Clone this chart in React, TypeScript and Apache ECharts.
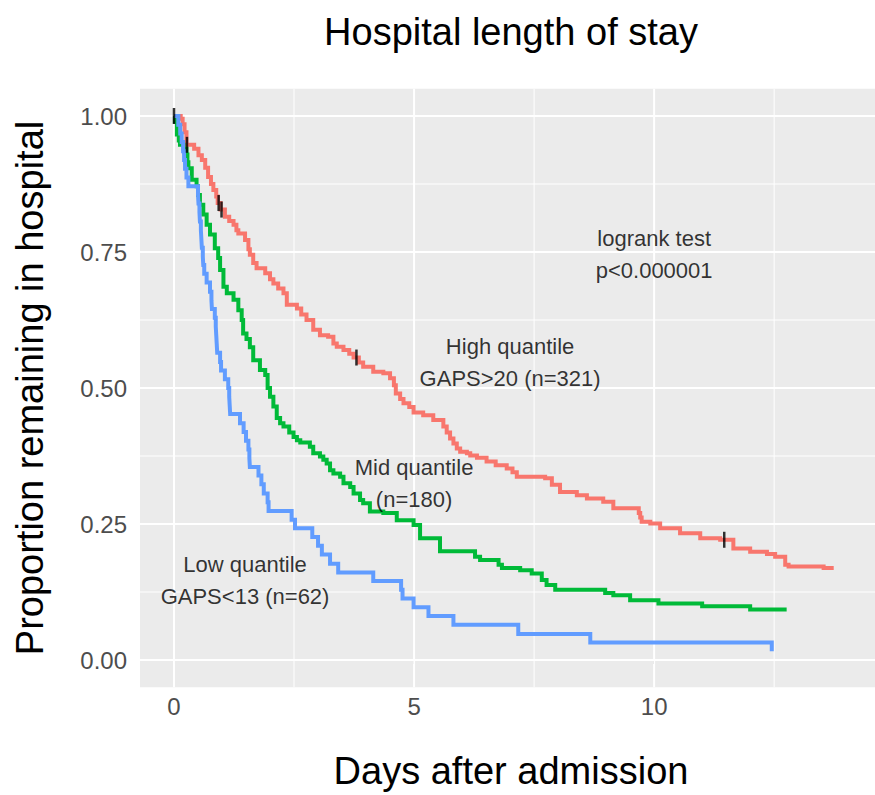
import React, { useEffect, useRef } from "react";
import * as echarts from "echarts";

// Kaplan–Meier estimates of the proportion still in hospital, by GAPS group
const highTimes = [0, 0.14, 0.18, 0.22, 0.26, 0.42, 0.51, 0.58, 0.65, 0.71, 0.77, 0.82, 0.88, 0.91, 0.97, 1.06, 1.15, 1.24, 1.30, 1.34, 1.48, 1.55, 1.58, 1.65, 1.72, 1.90, 2.00, 2.07, 2.17, 2.28, 2.35, 2.56, 2.65, 2.76, 2.90, 3.04, 3.21, 3.32, 3.39, 3.53, 3.65, 3.74, 3.85, 3.94, 4.15, 4.36, 4.50, 4.58, 4.62, 4.71, 4.78, 4.90, 4.99, 5.19, 5.40, 5.61, 5.68, 5.75, 5.82, 5.89, 5.96, 6.10, 6.17, 6.31, 6.51, 6.70, 6.93, 7.05, 7.14, 7.73, 7.87, 8.04, 8.39, 8.60, 8.94, 9.15, 9.68, 9.71, 9.74, 9.92, 10.125, 10.54, 10.96, 11.375, 11.65, 12.0, 12.35, 12.52, 12.73, 12.80, 13.53, 13.74];
const highSurv = [1.0, 0.995, 0.985, 0.97, 0.947, 0.94, 0.928, 0.919, 0.905, 0.888, 0.875, 0.864, 0.852, 0.84, 0.828, 0.815, 0.807, 0.80, 0.79, 0.784, 0.772, 0.755, 0.745, 0.73, 0.72, 0.711, 0.70, 0.692, 0.683, 0.674, 0.653, 0.646, 0.635, 0.625, 0.607, 0.597, 0.594, 0.582, 0.576, 0.57, 0.563, 0.556, 0.547, 0.539, 0.53, 0.527, 0.518, 0.505, 0.49, 0.48, 0.472, 0.465, 0.455, 0.45, 0.441, 0.429, 0.418, 0.407, 0.398, 0.389, 0.383, 0.38, 0.376, 0.372, 0.365, 0.358, 0.352, 0.345, 0.337, 0.334, 0.322, 0.309, 0.303, 0.297, 0.291, 0.279, 0.27, 0.262, 0.254, 0.251, 0.242, 0.233, 0.224, 0.221, 0.205, 0.199, 0.195, 0.19, 0.175, 0.172, 0.169, 0.169];

const midTimes = [0, 0.02, 0.06, 0.10, 0.125, 0.20, 0.26, 0.28, 0.30, 0.37, 0.47, 0.50, 0.54, 0.61, 0.68, 0.75, 0.85, 0.92, 0.96, 1.03, 1.10, 1.24, 1.34, 1.41, 1.44, 1.51, 1.58, 1.65, 1.79, 1.90, 1.95, 2.00, 2.07, 2.14, 2.21, 2.28, 2.40, 2.49, 2.56, 2.63, 2.83, 2.90, 3.04, 3.11, 3.18, 3.25, 3.32, 3.46, 3.53, 3.67, 3.74, 3.875, 3.94, 4.08, 4.36, 4.64, 4.99, 5.125, 5.54, 6.27, 6.375, 6.76, 6.83, 7.21, 7.45, 7.66, 7.76, 7.94, 8.98, 9.15, 9.5, 10.09, 11.0, 12.0, 12.76];
const midSurv = [1.0, 0.99, 0.966, 0.955, 0.947, 0.94, 0.929, 0.915, 0.904, 0.883, 0.871, 0.855, 0.837, 0.819, 0.80, 0.782, 0.757, 0.739, 0.717, 0.686, 0.674, 0.662, 0.643, 0.625, 0.60, 0.59, 0.575, 0.551, 0.533, 0.524, 0.50, 0.484, 0.466, 0.445, 0.435, 0.429, 0.418, 0.41, 0.404, 0.40, 0.392, 0.38, 0.374, 0.368, 0.361, 0.349, 0.343, 0.337, 0.325, 0.318, 0.306, 0.294, 0.288, 0.273, 0.27, 0.257, 0.248, 0.224, 0.200, 0.19, 0.184, 0.175, 0.169, 0.165, 0.159, 0.147, 0.138, 0.129, 0.123, 0.119, 0.11, 0.104, 0.099, 0.093, 0.093];

const lowTimes = [0, 0.09, 0.13, 0.16, 0.19, 0.21, 0.23, 0.26, 0.30, 0.50, 0.51, 0.53, 0.54, 0.56, 0.57, 0.58, 0.60, 0.61, 0.63, 0.68, 0.75, 0.78, 0.79, 0.85, 0.87, 0.88, 0.89, 0.90, 0.96, 0.98, 1.06, 1.13, 1.15, 1.16, 1.17, 1.375, 1.45, 1.50, 1.55, 1.57, 1.58, 1.76, 1.82, 1.87, 1.95, 1.97, 2.45, 2.52, 2.88, 3.0, 3.08, 3.25, 3.42, 4.15, 4.73, 4.76, 4.99, 5.30, 5.82, 7.17, 8.67, 12.45];
const lowSurv = [1.0, 0.984, 0.968, 0.952, 0.935, 0.919, 0.903, 0.887, 0.871, 0.855, 0.839, 0.823, 0.806, 0.790, 0.774, 0.758, 0.742, 0.726, 0.710, 0.694, 0.677, 0.661, 0.645, 0.629, 0.613, 0.597, 0.581, 0.565, 0.548, 0.532, 0.516, 0.500, 0.484, 0.468, 0.452, 0.435, 0.419, 0.403, 0.387, 0.371, 0.355, 0.339, 0.323, 0.306, 0.290, 0.274, 0.258, 0.242, 0.226, 0.210, 0.194, 0.177, 0.161, 0.145, 0.129, 0.113, 0.097, 0.081, 0.065, 0.048, 0.032, 0.016];

// censored observations (marked with "|") on the high-GAPS curve
const highCensorTimes = [0, 0.27, 0.93, 0.99, 3.80, 11.46];

// axis ticks and grid
const xTicks = [0, 5, 10];
const xMinorGrid = [2.5, 7.5, 12.5];
const yTicks = [0, 0.25, 0.5, 0.75, 1.0];
const yMinorGrid = [0.125, 0.375, 0.625, 0.875];

// in-panel annotations: [x, y, text]
const annotations: [number, number, string][] = [
  [10.0, 0.746, "logrank test\np<0.000001"],
  [7.0, 0.546, "High quantile\nGAPS>20 (n=321)"],
  [5.0, 0.325, "Mid quantile\n(n=180)"],
  [1.48, 0.147, "Low quantile\nGAPS<13 (n=62)"],
];

const TITLE = "Hospital length of stay";
const X_TITLE = "Days after admission";
const Y_TITLE = "Proportion remaining in hospital";

const X_MIN = -0.708;
const X_MAX = 14.6;
const Y_MIN = -0.05;
const Y_MAX = 1.05;

const FONT = "'Liberation Sans', Arial, sans-serif";

const zip = (t: number[], s: number[]) => t.map((v, i) => [v, s[i]]);
const survAt = (t: number[], s: number[], at: number) => {
  let v = s[0];
  for (let i = 0; i < t.length; i++) if (t[i] <= at) v = s[i];
  return v;
};

export default function App() {
  const ref = useRef<HTMLDivElement>(null);

  useEffect(() => {
    if (!ref.current) return;
    const chart = echarts.init(ref.current, undefined, { renderer: "svg" });

    const gridSeries: any[] = [];
    const addLine = (data: number[][], width: number) =>
      gridSeries.push({
        type: "line",
        data,
        symbol: "none",
        silent: true,
        z: 1,
        lineStyle: { color: "#FFFFFF", width },
      });
    xMinorGrid.forEach((x) => addLine([[x, Y_MIN], [x, Y_MAX]], 1));
    yMinorGrid.forEach((y) => addLine([[X_MIN, y], [X_MAX, y]], 1));
    xTicks.forEach((x) => addLine([[x, Y_MIN], [x, Y_MAX]], 2));
    yTicks.forEach((y) => addLine([[X_MIN, y], [X_MAX, y]], 2));

    const curve = (name: string, t: number[], s: number[], color: string, z: number) => ({
      type: "line",
      name,
      step: "end",
      data: zip(t, s),
      showSymbol: false,
      symbol: "none",
      z,
      lineStyle: { color, width: 4, join: "miter" },
    });

    chart.setOption({
      animation: false,
      backgroundColor: "#FFFFFF",
      grid: {
        left: 140,
        right: 0,
        top: 88.8,
        bottom: 107.8,
        show: true,
        backgroundColor: "#EBEBEB",
        borderWidth: 0,
      },
      xAxis: {
        type: "value",
        min: X_MIN,
        max: X_MAX,
        axisLine: { show: false },
        splitLine: { show: false },
        axisTick: {
          show: true,
          customValues: xTicks,
          length: 4,
          lineStyle: { color: "#333333", width: 1.5 },
        },
        axisLabel: {
          customValues: xTicks,
          fontSize: 24,
          color: "#4D4D4D",
          fontFamily: FONT,
          margin: 7,
        },
      },
      yAxis: {
        type: "value",
        min: Y_MIN,
        max: Y_MAX,
        axisLine: { show: false },
        splitLine: { show: false },
        axisTick: {
          show: true,
          customValues: yTicks,
          length: 4,
          lineStyle: { color: "#333333", width: 1.5 },
        },
        axisLabel: {
          customValues: yTicks,
          formatter: (v: number) => v.toFixed(2),
          fontSize: 24,
          color: "#4D4D4D",
          fontFamily: FONT,
          margin: 13,
        },
      },
      series: [
        ...gridSeries,
        curve("High quantile", highTimes, highSurv, "#F8766D", 3),
        curve("Mid quantile", midTimes, midSurv, "#00BA38", 4),
        curve("Low quantile", lowTimes, lowSurv, "#619CFF", 5),
        {
          type: "scatter",
          name: "censored",
          data: highCensorTimes.map((t) => [t, survAt(highTimes, highSurv, t)]),
          symbol: "rect",
          symbolSize: [2.5, 16],
          itemStyle: { color: "#000000" },
          z: 6,
          silent: true,
        },
        {
          type: "scatter",
          name: "annotations",
          data: annotations.map((a) => [a[0], a[1], a[2]]),
          symbolSize: 1,
          itemStyle: { color: "rgba(0,0,0,0)" },
          z: 7,
          silent: true,
          label: {
            show: true,
            position: "inside",
            formatter: (p: any) => p.data[2],
            fontSize: 22,
            lineHeight: 32,
            color: "#000000",
            fontFamily: FONT,
            align: "center",
            verticalAlign: "middle",
          },
        },
      ],
      graphic: [
        {
          type: "text",
          x: 511,
          y: 32,
          style: {
            text: TITLE,
            fontSize: 38,
            fontFamily: FONT,
            fill: "#000000",
            textAlign: "center",
            textVerticalAlign: "middle",
          },
        },
        {
          type: "text",
          x: 511,
          y: 771,
          style: {
            text: X_TITLE,
            fontSize: 38,
            fontFamily: FONT,
            fill: "#000000",
            textAlign: "center",
            textVerticalAlign: "middle",
          },
        },
        {
          type: "text",
          x: 30,
          y: 388,
          rotation: Math.PI / 2,
          style: {
            text: Y_TITLE,
            fontSize: 38,
            fontFamily: FONT,
            fill: "#000000",
            textAlign: "center",
            textVerticalAlign: "middle",
          },
        },
      ],
    });

    return () => chart.dispose();
  }, []);

  return (
    <div
      style={{
        position: "fixed",
        left: 0,
        top: 0,
        width: 875,
        height: 795,
        background: "#FFFFFF",
      }}
    >
      <div ref={ref} style={{ width: 875, height: 795 }} />
    </div>
  );
}
